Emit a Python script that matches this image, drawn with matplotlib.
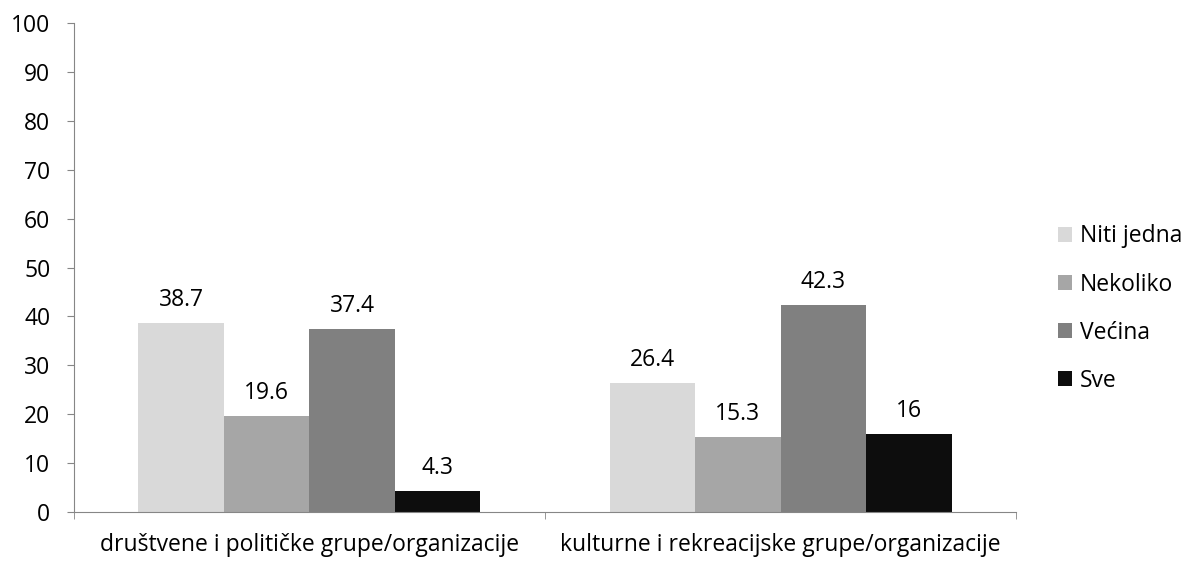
import numpy as np
import matplotlib.pyplot as plt
from matplotlib.patches import Patch

plt.rcParams['font.family'] = ['Open Sans', 'DejaVu Sans']

categories = ["društvene i političke grupe/organizacije",
              "kulturne i rekreacijske grupe/organizacije"]
series = ["Niti jedna", "Nekoliko", "Većina", "Sve"]
values = [
    [38.7, 26.4],
    [19.6, 15.3],
    [37.4, 42.3],
    [4.3, 16],
]
value_labels = [["38.7", "26.4"], ["19.6", "15.3"], ["37.4", "42.3"], ["4.3", "16"]]
colors = ["#D9D9D9", "#A6A6A6", "#808080", "#0D0D0D"]
yticks = np.arange(0, 101, 10)

fig = plt.figure(figsize=(11.87, 5.61), dpi=100)
ax = fig.add_axes([0.0623, 0.0873, 0.7937, 0.8717])

x = np.arange(len(categories))
w = 0.1815
fs = 16.5
for i, (name, vals) in enumerate(zip(series, values)):
    pos = x + (i - 1.5) * w
    ax.bar(pos, vals, width=w, color=colors[i], label=name)
    for px, v, lab in zip(pos, vals, value_labels[i]):
        ax.annotate(lab, (px, v), xytext=(0, 8), textcoords="offset points",
                    ha="center", va="bottom", fontsize=fs)

ax.set_xlim(-0.5, 1.5)
ax.set_ylim(0, 100)
ax.set_yticks(yticks)
ax.tick_params(axis="y", labelsize=fs, length=5, color="#868686", pad=12)
ax.set_xticks(x)
ax.set_xticklabels(categories, fontsize=fs)
ax.tick_params(axis="x", which="major", length=0, pad=15)
ax.set_xticks([-0.5, 0.5, 1.5], minor=True)
ax.tick_params(axis="x", which="minor", length=5, color="#868686")

for s in ["top", "right"]:
    ax.spines[s].set_visible(False)
for s in ["left", "bottom"]:
    ax.spines[s].set_color("#868686")

handles = [Patch(facecolor=c, label=n) for c, n in zip(colors, series)]
fig.legend(handles=handles, loc="center left", bbox_to_anchor=(0.874, 0.45),
           frameon=False, fontsize=fs, handlelength=0.6, handleheight=0.6,
           handletextpad=0.35, labelspacing=1.05)

fig.savefig("out.png", dpi=100)
